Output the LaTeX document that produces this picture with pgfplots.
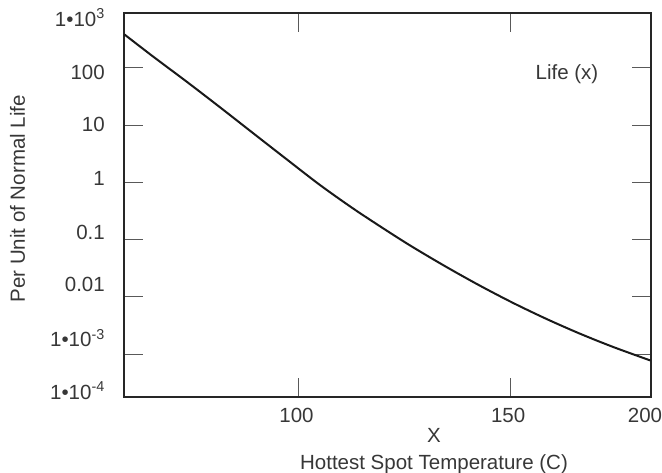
\documentclass[border=0pt]{standalone}
\usepackage{fontspec}
\setmainfont{Liberation Sans}
\usepackage{pgfplots}
\pgfplotsset{compat=1.18}
\definecolor{txt}{RGB}{55,55,55}
\newcommand{\lbl}{\fontsize{20.5bp}{26.7bp}\selectfont}
\begin{document}
\begin{tikzpicture}
\path[use as bounding box] (-124.5bp,-76.3bp) rectangle (537.5bp,396.7bp);
\begin{axis}[
  at={(0,0)}, anchor=south west,
  scale only axis, width=526bp, height=383.4bp,
  xmin=58.79, xmax=183.02,
  ymode=log, ymin=1.813e-4, ymax=890,
  axis line style={line width=2bp, black!85},
  tick style={line width=1bp, black!65},
  major tick length=18.5bp,
  yminorticks=false, xminorticks=false,
  tick align=inside,
  xtick={100,150}, xticklabels={100,150},
  ytick={0.001,0.01,0.1,1,10,100}, yticklabels={,,,,,},
  tick label style={font=\lbl, text=txt, inner sep=0pt},
  xticklabel style={anchor=north, yshift=-11bp, xshift=-2.5bp, text height=14.5bp, text depth=0pt},
  yticklabel style={anchor=east, xshift=-19.5bp, text height=14.5bp, text depth=0pt},
  extra x ticks={182.31}, extra x tick labels={200},
  extra x tick style={major tick length=0pt, tick style={draw=none}},
  extra y ticks={2.189e-4,1.791e-3,0.01633,0.1341,1.189,10.12,83.1,707.9},
  extra y tick labels={1•10\textsuperscript{-4},1•10\textsuperscript{-3},0.01,0.1,1,10,100,1•10\textsuperscript{3}},
  extra y tick style={major tick length=0pt, tick style={draw=none}},
  xlabel={X\\Hottest Spot Temperature (C)},
  xlabel style={at={(axis description cs:0.5884,-0.0824)}, anchor=north, align=center, font=\lbl, text=txt, inner sep=0pt},
  ylabel={Per Unit of Normal Life},
  ylabel style={at={(axis description cs:-0.2034,0.516)}, anchor=center, font=\lbl, text=txt, inner sep=0pt},
  clip=false,
]
\addplot[line width=2bp, black!90, smooth] coordinates {
(58.79,379.6) (65.59,155.6) (73.48,57.0) (81.34,20.4) (89.21,7.16)
(97.09,2.52) (104.96,0.897) (112.82,0.3475) (120.71,0.1436) (126.99,0.0731)
(134.88,0.0331) (142.75,0.01569) (150.61,0.00782) (158.50,0.00411)
(166.37,0.00228) (174.23,0.001335) (183.02,0.000776)
};
\node[font=\lbl, text=txt, inner sep=0pt] at (axis cs:163.3,77.6) {Life (x)};
\end{axis}
\end{tikzpicture}
\end{document}
